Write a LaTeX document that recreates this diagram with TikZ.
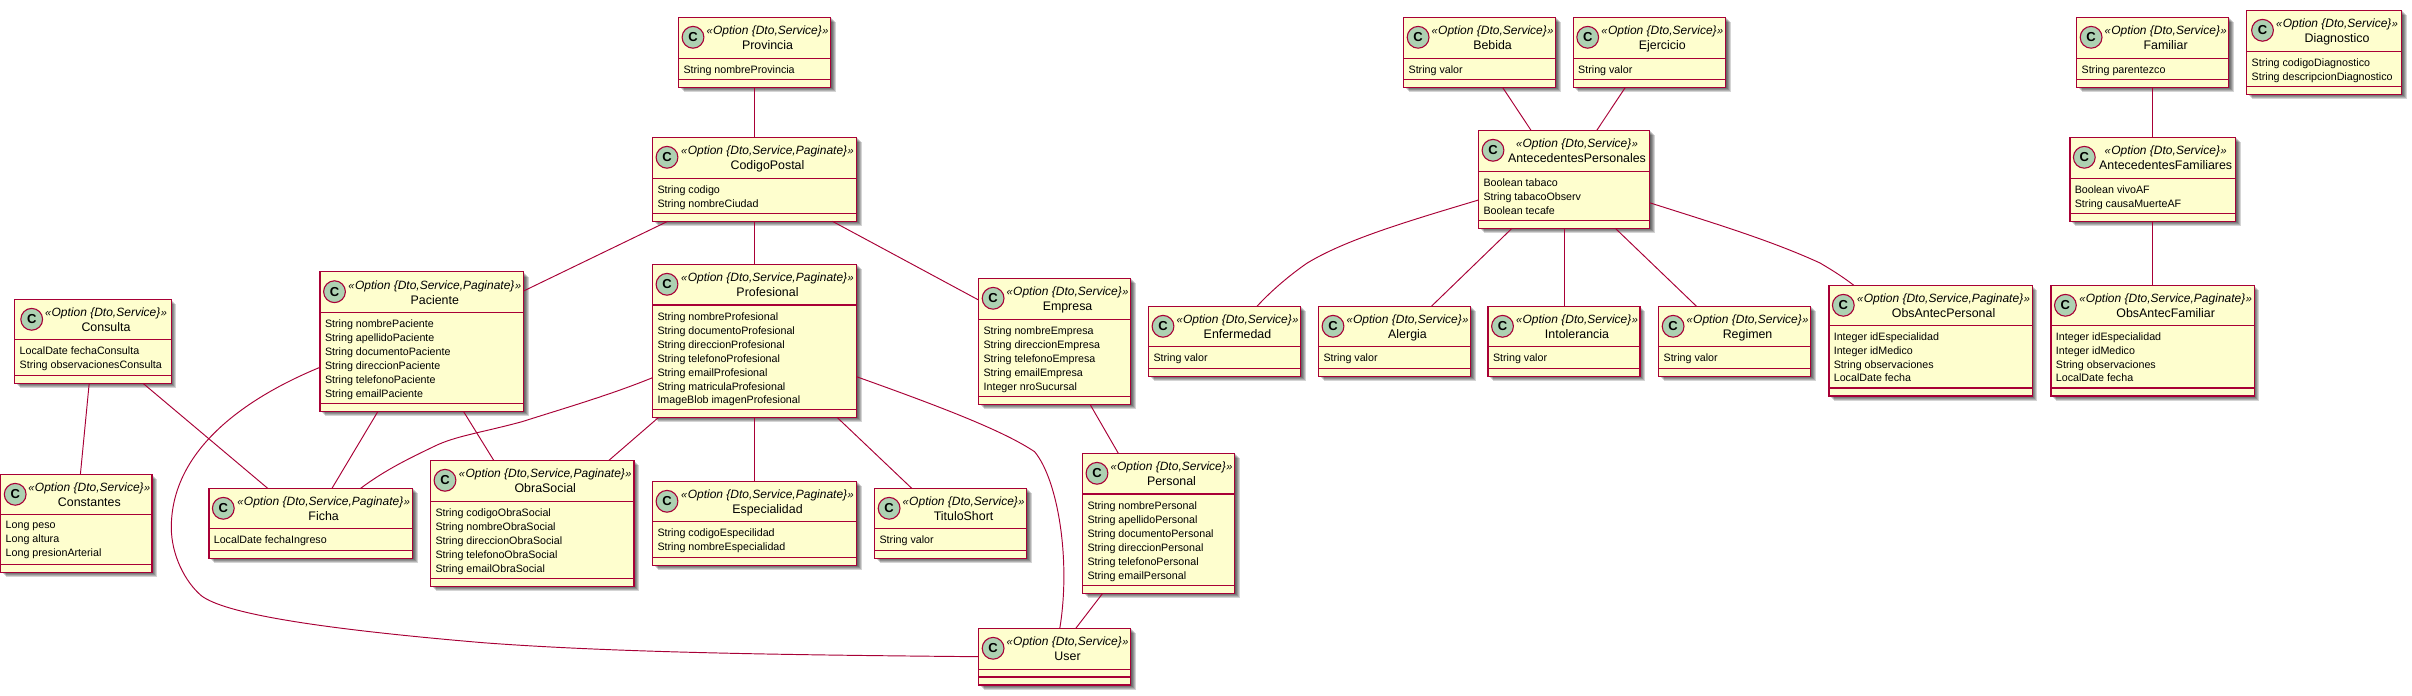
\documentclass[tikz,border=0pt]{standalone}
\usepackage{fontspec}
\setmainfont{Liberation Sans}
\usetikzlibrary{calc}
\definecolor{umlline}{HTML}{A80036}
\definecolor{umlfill}{HTML}{FEFECE}
\definecolor{umlicon}{HTML}{ADD1B2}
\tikzset{
  umlbox/.style={rectangle,draw=umlline,fill=umlfill,line width=1.4pt,inner sep=0pt,outer sep=0pt},
  umlsep/.style={draw=umlline,line width=1.4pt},
  umlshadow/.style={fill=black,fill opacity=.17,draw=none},
  umlicondisc/.style={circle,draw=umlline,fill=umlicon,line width=1.1pt,inner sep=0pt,outer sep=0pt,minimum size=21.8pt},
  umllink/.style={draw=umlline,line width=.95pt},
  umlstereo/.style={inner sep=0pt,anchor=base,font=\fontsize{12}{14}\selectfont\itshape},
  umltitle/.style={inner sep=0pt,anchor=base,font=\fontsize{12.4}{14}\selectfont},
  umlmembers/.style={inner sep=0pt,anchor=north west,align=left,font=\fontsize{10.7}{14}\selectfont},
}
\def\ioff{14.5}
\newcommand{\Gl}{{\fontsize{11}{11}\selectfont «}\kern.5pt}
\newcommand{\Gr}{\kern.5pt{\fontsize{11}{11}\selectfont »}}
\newcommand{\Sd}{\Gl Option \{Dto,Service\}\Gr}
\newcommand{\Sp}{\Gl Option \{Dto,Service,Paginate\}\Gr}
% id, x1, y1, x2, y2, first separator y, stereotype, title, members
\newcommand{\umlclass}[9]{%
  \foreach \s in {1,2,3,4,5}{\path[umlshadow] (#2+\s,#3+\s) rectangle (#4+\s,#5+\s);}
  \pgfmathsetmacro{\cx}{(#2+#4)/2}\pgfmathsetmacro{\cy}{(#3+#5)/2}%
  \pgfmathsetmacro{\bw}{#4-#2}\pgfmathsetmacro{\bh}{#5-#3}%
  \pgfmathsetmacro{\tx}{(#2+26+#4)/2}%
  \node[umlbox,minimum width=\bw pt,minimum height=\bh pt] (#1) at (\cx,\cy) {};
  \draw[umlsep] (#2,#6) -- (#4,#6);
  \draw[umlsep] (#2,#5-8) -- (#4,#5-8);
  \node[umlicondisc] (#1-icon) at (#2+\ioff,#3+20) {\fontsize{13}{13}\selectfont\bfseries C};
  \node[umlstereo] (#1-st) at (\tx,#3+17.6) {#7};
  \node[umltitle] (#1-ti) at (\tx,#3+32.3) {#8};
  \node[umlmembers] (#1-m) at (#2+4.8,#6+7.1) {#9};
}
\begin{document}
\begin{tikzpicture}[x=1pt,y=-1pt]
\useasboundingbox (0,0) rectangle (2412,696);
\umlclass{prov}{678.5}{17.3}{830.5}{87.3}{58.7}{\Sd}{Provincia}{String nombreProvincia}
\umlclass{cp}{652.5}{137.3}{856.5}{221.3}{178.7}{\Sp}{CodigoPostal}{String codigo\\String nombreCiudad}
\umlclass{pac}{320}{271.7}{523.6}{411.3}{312.3}{\Sp}{Paciente}{String nombrePaciente\\String apellidoPaciente\\String documentoPaciente\\String direccionPaciente\\String telefonoPaciente\\String emailPaciente}
\umlclass{prof}{652.5}{264.3}{856.5}{417.3}{305}{\Sp}{Profesional}{String nombreProfesional\\String documentoProfesional\\String direccionProfesional\\String telefonoProfesional\\String emailProfesional\\String matriculaProfesional\\[-1pt]ImageBlob imagenProfesional}
\umlclass{emp}{978.6}{278.3}{1130.5}{404.3}{319.3}{\Sd}{Empresa}{String nombreEmpresa\\String direccionEmpresa\\String telefonoEmpresa\\String emailEmpresa\\Integer nroSucursal}
\def\ioff{17}
\umlclass{cons}{14.7}{299.3}{171.3}{383.3}{339.3}{\Sd}{Consulta}{LocalDate fechaConsulta\\String observacionesConsulta}
\def\ioff{14.5}
\umlclass{const}{0.7}{474.3}{152}{572.3}{514.3}{\Sd}{Constantes}{Long peso\\Long altura\\Long presionArterial}
\umlclass{ficha}{208.8}{488.3}{412.5}{558.3}{528.3}{\Sp}{Ficha}{LocalDate fechaIngreso}
\umlclass{os}{430.5}{460.3}{634}{586.3}{501.3}{\Sp}{ObraSocial}{String codigoObraSocial\\String nombreObraSocial\\String direccionObraSocial\\String telefonoObraSocial\\String emailObraSocial}
\umlclass{esp}{652.5}{481.3}{856.5}{565.3}{521.7}{\Sp}{Especialidad}{String codigoEspecilidad\\String nombreEspecialidad}
\umlclass{tit}{874.6}{488.3}{1026.6}{558.3}{528.3}{\Sd}{TituloShort}{String valor}
\umlclass{pers}{1082.5}{453.3}{1234.5}{593.3}{494}{\Sd}{Personal}{String nombrePersonal\\String apellidoPersonal\\String documentoPersonal\\String direccionPersonal\\String telefonoPersonal\\String emailPersonal}
\umlclass{user}{978.6}{628.3}{1130.5}{685}{669.3}{\Sd}{User}{}
\umlclass{beb}{1403.6}{17.3}{1555.5}{87.3}{58.7}{\Sd}{Bebida}{String valor}
\umlclass{ej}{1573.2}{17.3}{1725.5}{87.3}{58.7}{\Sd}{Ejercicio}{String valor}
\umlclass{ap}{1478.5}{130.3}{1649.5}{228.3}{171.7}{\Sd}{AntecedentesPersonales}{Boolean tabaco\\String tabacoObserv\\Boolean tecafe}
\umlclass{enf}{1148.5}{306.3}{1300.5}{376.3}{346.7}{\Sd}{Enfermedad}{String valor}
\umlclass{ale}{1318.5}{306.3}{1470.5}{376.3}{346.7}{\Sd}{Alergia}{String valor}
\umlclass{into}{1488}{306.3}{1640}{376.3}{346.7}{\Sd}{Intolerancia}{String valor}
\umlclass{reg}{1658.6}{306.3}{1810.5}{376.3}{346.7}{\Sd}{Regimen}{String valor}
\umlclass{oap}{1828.8}{285.3}{2032.3}{396}{325.3}{\Sp}{ObsAntecPersonal}{Integer idEspecialidad\\Integer idMedico\\String observaciones\\[-1pt]LocalDate fecha}
\umlclass{oaf}{2050.9}{285.3}{2254.4}{396}{325.3}{\Sp}{ObsAntecFamiliar}{Integer idEspecialidad\\Integer idMedico\\String observaciones\\[-1pt]LocalDate fecha}
\umlclass{af}{2069.8}{137.3}{2235.5}{221.3}{178.7}{\Sd}{AntecedentesFamiliares}{Boolean vivoAF\\String causaMuerteAF}
\umlclass{fam}{2076.6}{17.3}{2228.7}{87.3}{58.7}{\Sd}{Familiar}{String parentezco}
\def\ioff{15.8}
\umlclass{diag}{2246.7}{10.3}{2401.5}{94.3}{51.7}{\Sd}{Diagnostico}{String codigoDiagnostico\\String descripcionDiagnostico}
\def\ioff{14.5}
% connectors
\draw[umllink] (prov) -- (cp);
\draw[umllink] (cp) -- (prof);
\draw[umllink] ([xshift=15.3pt]cp.south west) -- ([yshift=-19.3pt]pac.north east);
\draw[umllink] ([xshift=179.9pt]cp.south west) -- ([yshift=-21.7pt]emp.north west);
\draw[umllink] ([xshift=111.4pt]emp.south west) -- ([xshift=35.8pt]pers.north west);
\draw[umllink] ([xshift=20.2pt]pers.south west) -- ([xshift=97.2pt]user.north west);
\draw[umllink] ([yshift=-112.4pt]prof.north east) .. controls (950,410) and (1005,432) .. (1034.6,451.7) .. controls (1058,480) and (1071,560) .. ([xshift=81.2pt]user.north west);
\draw[umllink] ([yshift=-95.6pt]pac.north west) .. controls (265,390) and (171,440) .. (171.3,528) .. controls (171.5,555) and (185,582) .. (201.7,596) .. controls (225,613) and (310,628) .. (483,642.7) .. controls (620,653) and (800,655) .. ([yshift=-28.4pt]user.north west);
\draw[umllink] ([xshift=58pt]pac.south west) -- ([xshift=123.2pt]ficha.north west);
\draw[umllink] ([xshift=143.4pt]pac.south west) -- ([xshift=63.2pt]os.north west);
\draw[umllink] ([xshift=74.5pt]cons.south west) -- ([xshift=79.7pt]const.north west);
\draw[umllink] ([xshift=128.3pt]cons.south west) -- ([xshift=58.9pt]ficha.north west);
\draw[umllink] ([yshift=-113.4pt]prof.north west) .. controls (610,395) and (565,408) .. (522,421.7) .. controls (480,433) and (455,436) .. (433.5,446.7) .. controls (410,458) and (385,470) .. ([xshift=151.9pt]ficha.north west);
\draw[umllink] ([xshift=6.2pt]prof.south west) -- ([xshift=178.5pt]os.north west);
\draw[umllink] (prof) -- (esp);
\draw[umllink] ([xshift=184.5pt]prof.south west) -- ([xshift=37.1pt]tit.north west);
\draw[umllink] ([xshift=98.9pt]beb.south west) -- ([xshift=52.5pt]ap.north west);
\draw[umllink] ([xshift=52.2pt]ej.south west) -- ([xshift=118.3pt]ap.north west);
\draw[umllink] ([yshift=-69.7pt]ap.north west) .. controls (1405,222) and (1345,240) .. (1306.8,263.3) .. controls (1290,275) and (1272,290) .. ([xshift=108.5pt]enf.north west);
\draw[umllink] ([xshift=33.5pt]ap.south west) -- ([xshift=112.9pt]ale.north west);
\draw[umllink] (ap) -- (into);
\draw[umllink] ([xshift=136.8pt]ap.south west) -- ([xshift=37.9pt]reg.north west);
\draw[umllink] ([yshift=-72.4pt]ap.north east) .. controls (1710,222) and (1770,240) .. (1820,263) .. controls (1832,270) and (1843,277) .. ([xshift=25pt]oap.north west);
\draw[umllink] (fam) -- (af);
\draw[umllink] (af) -- (oaf);
\end{tikzpicture}
\end{document}
